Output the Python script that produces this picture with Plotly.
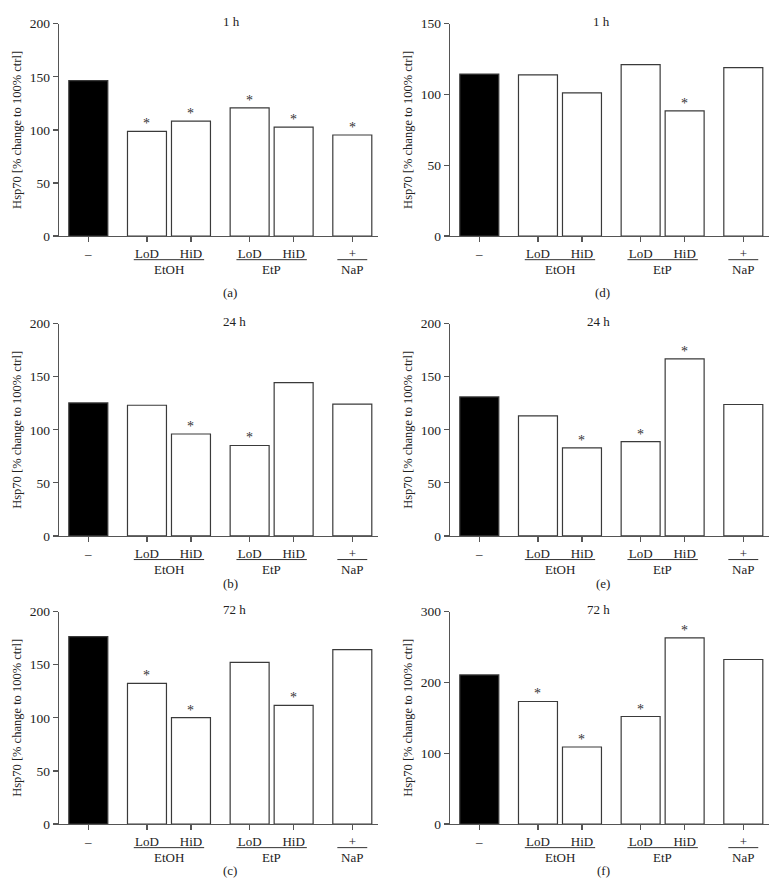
import plotly.graph_objects as go

# ---------------- data ----------------
conditions = ["–", "LoD", "HiD", "LoD", "HiD", "+"]
groups = ["", "EtOH", "EtOH", "EtP", "EtP", "NaP"]
panel_letters = ["a", "b", "c", "d", "e", "f"]
panel_times = ["1 h", "24 h", "72 h", "1 h", "24 h", "72 h"]

vals_a = [146.4, 98.6, 108.2, 120.8, 102.6, 95.2]
vals_b = [125.3, 123.1, 96.0, 85.2, 144.4, 124.1]
vals_c = [176.5, 132.4, 100.3, 152.2, 111.7, 164.2]
vals_d = [114.4, 113.9, 101.2, 121.1, 88.5, 119.0]
vals_e = [130.9, 113.0, 83.0, 88.9, 166.7, 123.8]
vals_f = [210.6, 173.1, 108.8, 151.9, 263.0, 232.4]

stars_a = [0, 1, 1, 1, 1, 1]
stars_b = [0, 0, 1, 1, 0, 0]
stars_c = [0, 1, 1, 0, 1, 0]
stars_d = [0, 0, 0, 0, 1, 0]
stars_e = [0, 0, 1, 1, 1, 0]
stars_f = [0, 1, 1, 1, 1, 0]

ymax_list = [200, 200, 200, 150, 200, 300]
ydtick_list = [50, 50, 50, 50, 50, 100]

y_title = "Hsp70 [% change to 100% ctrl]"

# ---------------- layout helpers ----------------
W, H = 782, 893
FONT = "Liberation Serif, Times New Roman, serif"
AX = "#555555"
BAR_LINE = "#3a3a3a"

def px(x):
    return x / W

def py(y):
    return 1 - y / H

# x positions: step 1 within group, 4/3 between groups
pos = []
prev = None
for g in groups:
    if prev is None:
        pos.append(0.0)
    elif g == prev:
        pos.append(pos[-1] + 1.0)
    else:
        pos.append(pos[-1] + 4.0 / 3.0)
    prev = g

all_vals = [vals_a, vals_b, vals_c, vals_d, vals_e, vals_f]
all_stars = [stars_a, stars_b, stars_c, stars_d, stars_e, stars_f]

col_x = [(59, 378), (450, 769)]
row_y = [(17, 233), (322, 538), (615, 831)]
letter_y = [290, 586, 878]

fig = go.Figure()
annotations = []
shapes = []
layout = {}

for i in range(6):
    col = i // 3
    row = i % 3
    n = i + 1
    xa = "x" if n == 1 else f"x{n}"
    ya = "y" if n == 1 else f"y{n}"
    x0, x1 = col_x[col]
    t, b = row_y[row]
    vals = all_vals[i]
    colors = ["black" if g == "" else "white" for g in groups]
    fig.add_trace(go.Bar(
        x=pos, y=vals, width=0.886,
        marker=dict(color=colors, line=dict(color=BAR_LINE, width=1.2)),
        xaxis=xa, yaxis=ya, showlegend=False, hoverinfo="skip",
    ))
    layout["xaxis" if n == 1 else f"xaxis{n}"] = dict(
        domain=[px(x0), px(x1)], anchor=ya, range=[-0.666, 6.584],
        showline=True, linecolor=AX, linewidth=1.2, showgrid=False, zeroline=False,
        ticks="outside", ticklen=5, tickcolor=AX, tickwidth=1.2,
        tickvals=pos, ticktext=conditions,
        tickfont=dict(family=FONT, size=13, color="#222"),
    )
    layout["yaxis" if n == 1 else f"yaxis{n}"] = dict(
        domain=[py(b), py(t)], anchor=xa, range=[0, ymax_list[i]],
        showline=True, linecolor=AX, linewidth=1.2, showgrid=False, zeroline=False,
        ticks="outside", ticklen=5, tickcolor=AX, tickwidth=1.2,
        dtick=ydtick_list[i], tick0=0,
        tickfont=dict(family=FONT, size=13.5, color="#222"),
    )
    # stars
    for p, v, s in zip(pos, vals, all_stars[i]):
        if s:
            annotations.append(dict(
                x=p, y=v, xref=xa, yref=ya, text="*", showarrow=False,
                yanchor="bottom", yshift=-2,
                font=dict(family=FONT, size=14, color="#333"),
            ))
    # group labels and underlines
    seen = []
    for g in groups:
        if g and g not in seen:
            seen.append(g)
    for g in seen:
        ps = [p for p, gg in zip(pos, groups) if gg == g]
        half = 0.3 if len(ps) > 1 else 0.34
        shapes.append(dict(
            type="line", xref=xa, yref="paper",
            x0=min(ps) - half, x1=max(ps) + half,
            y0=py(b + 24), y1=py(b + 24),
            line=dict(color="#333", width=1),
        ))
        annotations.append(dict(
            x=sum(ps) / len(ps), y=py(b + 34), xref=xa, yref="paper",
            text=g, showarrow=False, yanchor="middle",
            font=dict(family=FONT, size=13, color="#222"),
        ))
    # time title
    annotations.append(dict(
        x=px((x0 + x1) / 2 + 2), y=py(t - 2), xref="paper", yref="paper",
        text=panel_times[i], showarrow=False, yanchor="middle",
        font=dict(family=FONT, size=13, color="#222"),
    ))
    # panel letter
    annotations.append(dict(
        x=px((x0 + x1) / 2 + 2), y=py(letter_y[row]), xref="paper", yref="paper",
        text=f"({panel_letters[i]})", showarrow=False, yanchor="middle",
        font=dict(family=FONT, size=13, color="#222"),
    ))
    # y title
    annotations.append(dict(
        x=px(x0 - 42), y=py((t + b) / 2), xref="paper", yref="paper",
        text=y_title, showarrow=False, textangle=-90,
        xanchor="center", yanchor="middle",
        font=dict(family=FONT, size=12.5, color="#222"),
    ))

fig.update_layout(
    width=W, height=H,
    margin=dict(l=0, r=0, t=0, b=0),
    paper_bgcolor="white", plot_bgcolor="white",
    annotations=annotations, shapes=shapes,
    bargap=0, hovermode=False, **layout,
)

fig.write_html(
    "out.html",
    config={"displayModeBar": False, "staticPlot": True},
    post_script="document.body.style.margin='0';document.body.style.overflow='hidden';",
)
